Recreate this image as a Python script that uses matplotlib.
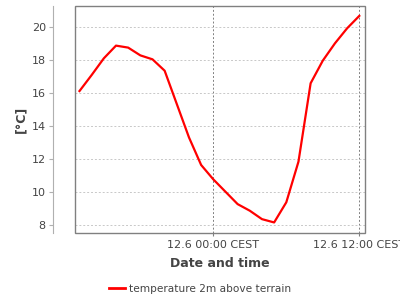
import matplotlib
matplotlib.use("Agg")
import matplotlib.pyplot as plt
from matplotlib.patches import Rectangle

# heures relatives a 12.6 00:00 CEST
hours = [-11, -10, -9, -8, -7, -6, -5, -4, -3, -2, -1,
         0, 1, 2, 3, 4, 5, 6, 7, 8, 9, 10, 11, 12]
temperature = [16.12, 17.09, 18.10, 18.87, 18.75, 18.28, 18.04, 17.35, 15.33, 13.31, 11.64,
               10.77, 10.02, 9.27, 8.87, 8.36, 8.16, 9.38, 11.84, 16.59, 17.96, 19.01, 19.92, 20.67]
xtick_pos = [0, 12]
xtick_labels = ["12.6 00:00 CEST", "12.6 12:00 CEST"]
yticks = [8, 10, 12, 14, 16, 18, 20]

txt = "#444444"
plt.rcParams["font.family"] = "DejaVu Sans"

fig = plt.figure(figsize=(4, 3), dpi=100)
ax = fig.add_axes([0.1875, 0.2233, 0.725, 0.7567])

ax.plot(hours, temperature, color="#ff0000", lw=1.6, label="temperature 2m above terrain", zorder=3)

ax.set_xlim(-11.37, 12.47)
ax.set_ylim(7.52, 21.27)

# grille
ax.set_yticks(yticks)
ax.set_xticks(xtick_pos)
ax.set_xticklabels(xtick_labels)
ax.grid(axis="y", color="#c8c8c8", ls=(0, (2, 2)), lw=0.7)
ax.grid(axis="x", color="#808080", ls=(0, (2, 2)), lw=0.7)

for s in ["top", "right", "bottom"]:
    ax.spines[s].set_visible(False)
ax.spines["left"].set_position(("outward", 16))
ax.spines["left"].set_color("#b0b0b0")
ax.add_patch(Rectangle((0, 0), 1, 1, transform=ax.transAxes, fill=False,
                       ec="#808080", lw=1.0, zorder=4, clip_on=False))

ax.tick_params(axis="y", direction="out", length=3, color="#b0b0b0",
               labelcolor=txt, labelsize=8, pad=2)
ax.tick_params(axis="x", direction="out", length=2, color="#808080",
               labelcolor=txt, labelsize=8, pad=3)

ax.set_xlabel("Date and time", fontsize=9, fontweight="bold", color=txt, labelpad=5)
ax.set_ylabel("[°C]", fontsize=9, fontweight="bold", color=txt, labelpad=3)

fig.legend(loc="lower center", bbox_to_anchor=(0.5, -0.01), frameon=False,
           fontsize=7.6, labelcolor=txt, handlelength=1.5, handletextpad=0.4)
for l in fig.legends[0].get_lines():
    l.set_linewidth(2)

plt.savefig("out.png", dpi=100)
